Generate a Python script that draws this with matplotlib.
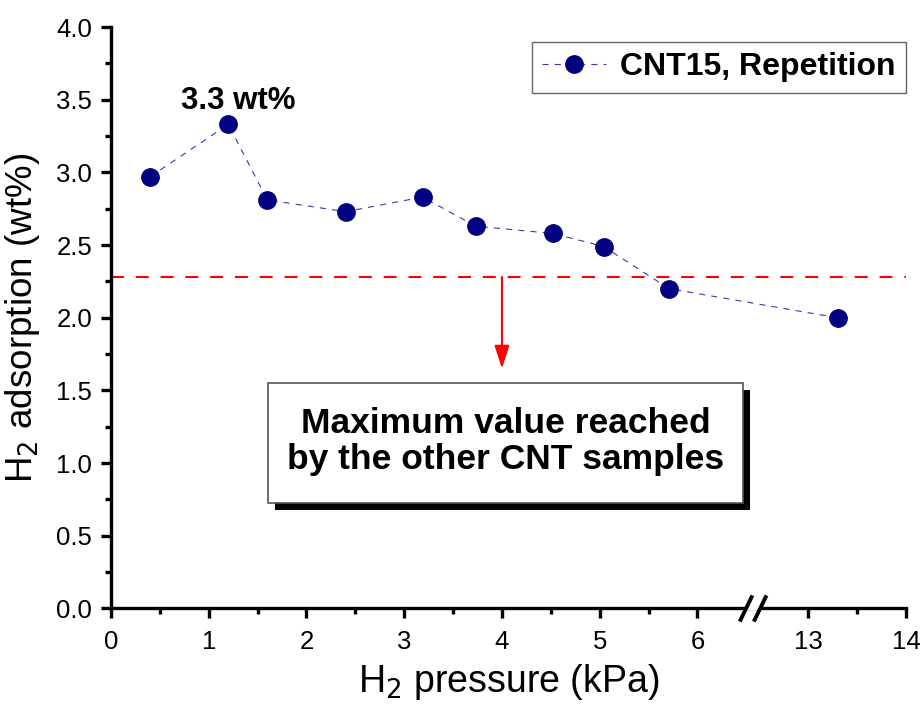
import numpy as np
import matplotlib
matplotlib.use("Agg")
import matplotlib.pyplot as plt
from matplotlib.patches import Rectangle, FancyArrowPatch
from matplotlib import patheffects as pe

plt.rcParams["font.family"] = ["Liberation Sans", "DejaVu Sans"]

# Measured hydrogen uptake vs. pressure
pressure_kpa = [0.40, 1.20, 1.60, 2.40, 3.19, 3.73, 4.52, 5.04, 5.71, 13.30]
uptake_wt = [2.97, 3.33, 2.81, 2.73, 2.83, 2.63, 2.58, 2.49, 2.20, 2.00]
series_label = "CNT15, Repetition"

# Best uptake obtained with the other CNT samples
other_max_wt = 2.28
arrow_end_wt = 1.65
box_text = "Maximum value reached\nby the other CNT samples"

x_ticks = [0, 1, 2, 3, 4, 5, 6, 13, 14]
x_minor = [0.5, 1.5, 2.5, 3.5, 4.5, 5.5, 13.5]
y_ticks = [0.0, 0.5, 1.0, 1.5, 2.0, 2.5, 3.0, 3.5, 4.0]
y_minor = list(np.arange(0.25, 4.0, 0.5))

# Broken x axis: the range between BREAK and BREAK + GAP is cut out
BREAK = 6.57
GAP = 5.866


def fwd(x):
    x = np.asarray(x, dtype=float)
    return np.where(x <= BREAK, x, np.where(x >= BREAK + GAP, x - GAP, BREAK))


def inv(u):
    u = np.asarray(u, dtype=float)
    return np.where(u <= BREAK, u, u + GAP)


fig = plt.figure(figsize=(9.21, 7.05), dpi=100)
ax = fig.add_axes([0.1205, 0.1369, 0.8632, 0.8248])
ax.set_xscale("function", functions=(fwd, inv))
ax.set_xlim(0, 14)
ax.set_ylim(0, 4.0)

navy = "#000080"
ax.plot(pressure_kpa, uptake_wt, linestyle=(0, (5.5, 5.5)), linewidth=0.8,
        color="#3a3aa8", marker="o", markersize=12.5, markerfacecolor=navy,
        markeredgecolor=navy, label=series_label, zorder=4, clip_on=False)

# Peak annotation
i_max = int(np.argmax(uptake_wt))
ax.text(1.30, 3.49, f"{uptake_wt[i_max]:.1f} wt%", fontsize=22.5, fontweight="bold",
        ha="center", va="center")

# Reference level and arrow
ax.axhline(other_max_wt, color="#ff0000", linewidth=1.5,
           linestyle=(0, (6.2, 5.7)), zorder=2)
arrow = FancyArrowPatch((4.0, other_max_wt), (4.0, arrow_end_wt),
                        arrowstyle="-|>,head_length=14,head_width=4.5",
                        mutation_scale=1, color="#ff0000", linewidth=1.5,
                        shrinkA=0, shrinkB=0, zorder=3)
ax.add_patch(arrow)

# Text box with drop shadow
box = Rectangle((1.607, 0.726), inv(6.469) - 1.607, 1.551 - 0.726,
                facecolor="white", edgecolor="#555555", linewidth=1.2, zorder=5)
box.set_path_effects([pe.SimplePatchShadow(offset=(5, -5), shadow_rgbFace="black",
                                           alpha=1.0), pe.Normal()])
ax.add_patch(box)
ax.text(4.04, 1.15, box_text, fontsize=25.5, fontweight="bold", ha="center",
        va="center", linespacing=1.12, zorder=6)

# Axes styling
for side in ("top", "right"):
    ax.spines[side].set_visible(False)
for side in ("left", "bottom"):
    ax.spines[side].set_linewidth(2.4)

ax.set_xticks(x_ticks, [str(t) for t in x_ticks])
ax.set_xticks(x_minor, minor=True)
ax.set_yticks(y_ticks, [f"{t:.1f}" for t in y_ticks])
ax.set_yticks(y_minor, minor=True)
ax.tick_params(which="major", direction="out", length=7.5, width=2.4,
               labelsize=18.5, pad=6)
ax.tick_params(axis="x", which="major", pad=8)
ax.tick_params(which="minor", direction="out", length=4, width=2.4)

ax.set_xlabel("H$_2$ pressure (kPa)", fontsize=27, labelpad=6)
ax.set_ylabel("H$_2$ adsorption (wt%)", fontsize=26.5, labelpad=10)

# Break marks on the x axis
for c in (BREAK - 0.072, BREAK + 0.072):
    xs = inv([c - 0.065, c + 0.065])
    ax.plot(xs, [-0.09, 0.09], color="black", linewidth=2.8,
            clip_on=False, zorder=7, solid_capstyle="butt")
gap_x = inv([BREAK - 0.04, BREAK + 0.04])
ax.plot(gap_x, [0, 0], color="white", linewidth=3.0, clip_on=False, zorder=6.5)

leg = ax.legend(loc="upper right", bbox_to_anchor=(1.0, 0.974),
                borderaxespad=0, fancybox=False, edgecolor="#666666",
                prop={"size": 23, "weight": "bold"}, handlelength=2.0,
                handletextpad=0.45, borderpad=0.32, framealpha=1)
leg.get_frame().set_linewidth(1.0)

fig.savefig("out.png", dpi=100, facecolor="white")
